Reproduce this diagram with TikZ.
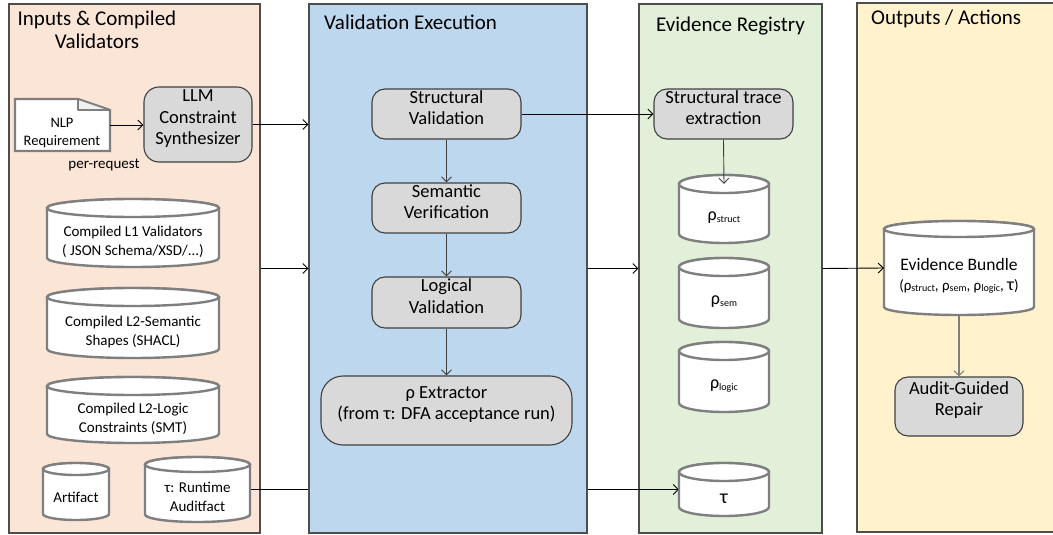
\documentclass[tikz,border=0pt]{standalone}
\usepackage{fontspec}
\setmainfont{Carlito}
\usetikzlibrary{arrows.meta,fit,calc}
\pgfdeclarelayer{bgpanels}
\pgfdeclarelayer{midline}
\pgfdeclarelayer{bluepanel}
\pgfsetlayers{bgpanels,midline,bluepanel,main}
\definecolor{inpfill}{HTML}{FBE5D6}
\definecolor{valfill}{HTML}{BDD7EE}
\definecolor{evrfill}{HTML}{E2F0D9}
\definecolor{outfill}{HTML}{FFF2CC}
\definecolor{boxfill}{HTML}{D9D9D9}
\definecolor{boxline}{HTML}{404040}
\definecolor{cylline}{HTML}{7F7F7F}
\definecolor{panelline}{HTML}{4D4D4D}
\newcommand\rsub[1]{ρ\raisebox{-1.5pt}{\fontsize{10}{10}\selectfont #1}}
\newcommand\cylnode[7]{%
  \pgfmathsetmacro\cylrx{(#4-#2)/2}%
  \pgfmathsetmacro\cylcx{(#4+#2)/2}%
  \pgfmathsetmacro\cylty{#3+#6}%
  \pgfmathsetmacro\cylby{#5-#6}%
  \pgfmathsetmacro\cyltxt{(#3+2*#6+#5)/2}%
  \path[cylshape] (#2,\cylty) -- (#2,\cylby) arc[start angle=180,end angle=360,x radius=\cylrx pt,y radius=#6pt] -- (#4,\cylty) arc[start angle=0,end angle=180,x radius=\cylrx pt,y radius=#6pt] -- cycle;
  \draw[cylshape] (\cylcx,\cylty) ellipse[x radius=\cylrx pt,y radius=#6pt];
  \node[inner sep=0pt,fit={(#2,#3)(#4,#5)}] (#1) {};
  \node[cyltext] (#1-t) at (\cylcx,\cyltxt) {#7};
}
\begin{document}
\begin{tikzpicture}[x=1pt,y=-1pt,
  panel/.style={draw=panelline,line width=1.2pt,inner sep=0pt},
  ttl/.style={font=\fontsize{21}{23.5}\selectfont,align=center,inner sep=0pt,anchor=base},
  rbox/.style={inner sep=0pt,draw=boxline,fill=boxfill,line width=1.1pt,rounded corners=13pt,align=center,font=\fontsize{18.5}{21.5}\selectfont},
  cylshape/.style={draw=cylline,line width=2.4pt,fill=white},
  cyltext/.style={inner sep=0pt,align=center,font=\fontsize{15}{19}\selectfont},
  conn/.style={draw=black,line width=0.9pt,-{Straight Barb[length=5pt,width=10pt]}},
  dconn/.style={conn,draw=boxline},
]
\useasboundingbox (0,0) rectangle (1053,535);
% panels
\begin{pgfonlayer}{bgpanels}
\node[panel,fill=inpfill,fit={(9,4)(260,533)}] (inp) {};
\node[panel,fill=evrfill,fit={(639,4)(822,533)}] (evr) {};
\node[panel,fill=outfill,fit={(857,3)(1062,532)}] (out) {};
\end{pgfonlayer}
\begin{pgfonlayer}{bluepanel}
\node[panel,fill=valfill,fit={(309,4)(587,533)}] (val) {};
\end{pgfonlayer}
% titles
\node[ttl] (inpt) at (97,49) {Inputs \& Compiled\\Validators};
\node[ttl,anchor=base west] (valt) at (324,30) {Validation Execution};
\node[ttl] (evrt) at (730.5,32) {Evidence Registry};
\node[ttl,anchor=base west] (outt) at (871,25) {Outputs / Actions};
% inputs
\path[fill=white,draw=cylline,line width=2.2pt] (15,99) -- (78,99) -- (110,110) -- (110,151) -- (15,151) -- cycle;
\path[fill=black!6,draw=cylline,line width=1.6pt,line join=round] (78,99) -- (78,110) -- (110,110) -- cycle;
\node[inner sep=0pt,fit={(15,99)(110,151)}] (nlp) {};
\node[cyltext,font=\fontsize{14.5}{18}\selectfont] (nlp-t) at (62,133) {NLP\\Requirement};
\node[rbox,fit={(144,87)(252,162)},rounded corners=15pt] (llm) {LLM\\Constraint\\Synthesizer};
\node[anchor=base,inner sep=0pt,font=\fontsize{15}{15}\selectfont] (preq) at (104,168) {per-request};
\cylnode{l1}{47}{199}{219}{267}{9}{Compiled L1 Validators\\( JSON Schema/XSD/...)}
\cylnode{l2s}{47}{288}{219}{358}{9}{Compiled L2-Semantic\\Shapes (SHACL)}
\cylnode{l2l}{47}{377}{219}{443}{9}{Compiled L2-Logic\\Constraints (SMT)}
\cylnode{art}{43}{463}{109}{520}{6}{Artifact}
\cylnode{taur}{145}{457}{250}{522}{7.5}{τ: Runtime\\Auditfact}
% validation
\node[rbox,fit={(372,89)(521,139)}] (sv) {Structural\\Validation};
\node[rbox,fit={(372,183)(521,233)}] (smv) {Semantic\\Verification};
\node[rbox,fit={(372,277)(521,328)}] (lv) {Logical\\Validation};
\node[rbox,fit={(321,376)(572,445)},rounded corners=22pt] (rx) {ρ Extractor\\(from τ: DFA acceptance run)};
% evidence
\node[rbox,fit={(654,89)(793,139)}] (ste) {Structural trace\\extraction};
\cylnode{rs}{679}{175}{769}{243}{9}{\fontsize{18}{18}\selectfont\rsub{struct}}
\cylnode{rsem}{679}{258}{769}{328}{9}{\fontsize{18}{18}\selectfont\rsub{sem}}
\cylnode{rlog}{679}{342}{769}{412}{9}{\fontsize{18}{18}\selectfont\rsub{logic}}
\cylnode{taue}{679}{463}{769}{516}{9}{\fontsize{20}{20}\selectfont τ}
% outputs
\cylnode{eb}{884}{221}{1034}{315}{8}{{\fontsize{17.5}{21}\selectfont Evidence Bundle}\\[1pt]{\fontsize{15}{18}\selectfont (\rsub{struct}, \rsub{sem}, \rsub{logic}, {\fontsize{18}{18}\selectfont τ})}}
\node[rbox,fit={(895,377)(1023,436)}] (rep) {Audit-Guided\\Repair};
% connectors
\draw[conn] (nlp.east) -- (nlp.east -| llm.west);
\draw[conn] (llm.east) -- (llm.east -| val.west);
\draw[conn] (inp.east) -- (val.west);
\draw[conn] (val.east) -- (evr.west);
\draw[conn] (evr.east) -- (eb.west);
\draw[conn] (sv.east) -- (ste.west);
\draw[dconn] (sv) -- (smv);
\draw[dconn] (smv) -- (lv);
\draw[dconn] (lv) -- (rx);
\draw[dconn] (ste.south) -- ($(rs.north)+(0,9)$);
\draw[dconn,draw=cylline,line width=1.1pt] (eb.south) -- (rep.north);
\begin{pgfonlayer}{midline}
\draw[conn] (taur.east) -- (taue.west);
\end{pgfonlayer}
\end{tikzpicture}
\end{document}
